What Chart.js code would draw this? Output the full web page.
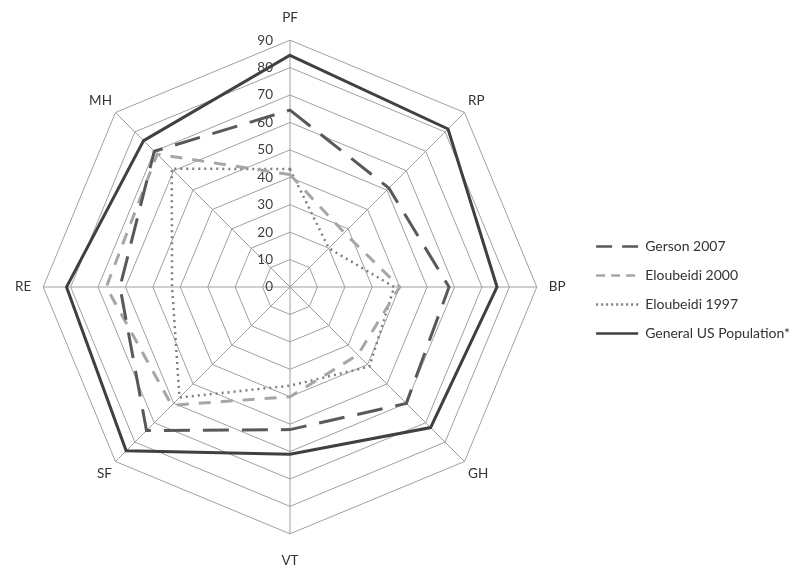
<!DOCTYPE html>
<html>
<head>
<meta charset="utf-8">
<script src="https://cdn.jsdelivr.net/npm/chart.js@4"></script>
<style>
html,body{margin:0;padding:0;background:#fff;}
#wrap{width:800px;height:572px;position:relative;}
</style>
</head>
<body>
<div id="wrap"><canvas id="c"></canvas></div>
<script>
const categories = ['PF', 'RP', 'BP', 'GH', 'VT', 'SF', 'RE', 'MH'];
const seriesNames = ['Gerson 2007', 'Eloubeidi 2000', 'Eloubeidi 1997', 'General US Population*'];
const gerson2007 = [64.5, 51, 58, 60, 52, 74, 62, 70];
const eloubeidi2000 = [41, 28, 40, 35, 40, 61, 67, 68.5];
const eloubeidi1997 = [43, 20, 38, 41, 36, 57, 43, 61];
const generalUS = [84.5, 81.5, 75.5, 72.5, 61, 84.5, 81.5, 75.5];
const tickValues = [0, 10, 20, 30, 40, 50, 60, 70, 80, 90];

const FONT = 'Lato, "Open Sans", sans-serif';

const lineStyles = [
  { color: '#595959', width: 3, dash: [26, 13], legendDash: [16, 10] },
  { color: '#a6a6a6', width: 3, dash: [12, 10], legendDash: [9, 6] },
  { color: '#7f7f7f', width: 2.5, dash: [2, 4], legendDash: [2, 3] },
  { color: '#404040', width: 3, dash: [], legendDash: [] }
];
const seriesData = [gerson2007, eloubeidi2000, eloubeidi1997, generalUS];
const labelPadding = [14, 5, 12, 5, 19, 5, 12, 5];

const tickLabelPlugin = {
  id: 'tickLabelPlugin',
  beforeDatasetsDraw(chart) {
    const s = chart.scales.r;
    const ctx = chart.ctx;
    ctx.save();
    ctx.font = '13.5px ' + FONT;
    ctx.fillStyle = '#404040';
    ctx.textAlign = 'right';
    ctx.textBaseline = 'middle';
    tickValues.forEach(v => {
      const y = s.yCenter - s.getDistanceFromCenterForValue(v);
      ctx.fillText(String(v), s.xCenter - 17, y);
    });
    ctx.restore();
  }
};

new Chart(document.getElementById('c'), {
  type: 'radar',
  data: {
    labels: categories,
    datasets: seriesData.map((d, i) => ({
      label: seriesNames[i],
      data: d,
      borderColor: lineStyles[i].color,
      backgroundColor: lineStyles[i].color,
      borderWidth: lineStyles[i].width,
      borderDash: lineStyles[i].dash,
      fill: false,
      pointRadius: 0,
      pointHoverRadius: 0,
      tension: 0
    }))
  },
  options: {
    responsive: true,
    maintainAspectRatio: false,
    animation: false,
    layout: { padding: { left: 0, right: 0, top: 8, bottom: 0 } },
    scales: {
      r: {
        min: tickValues[0],
        max: tickValues[tickValues.length - 1],
        ticks: { display: false, stepSize: tickValues[1] - tickValues[0] },
        grid: { circular: false, color: '#a0a0a0', lineWidth: 1 },
        angleLines: { color: '#a0a0a0', lineWidth: 1 },
        pointLabels: {
          font: { family: FONT, size: 13.5 },
          color: '#333333',
          padding: (ctx) => labelPadding[ctx.index]
        }
      }
    },
    plugins: {
      tooltip: { enabled: false },
      legend: {
        position: 'right',
        labels: {
          usePointStyle: true,
          pointStyle: 'line',
          pointStyleWidth: 42,
          padding: 15,
          color: '#333333',
          font: { family: FONT, size: 14 },
          generateLabels: (chart) => Chart.defaults.plugins.legend.labels.generateLabels(chart).map((l, i) => Object.assign(l, {
            lineDash: lineStyles[i].legendDash,
            lineWidth: 2.5,
            pointStyle: 'line'
          }))
        }
      }
    }
  },
  plugins: [tickLabelPlugin]
});
</script>
</body>
</html>
